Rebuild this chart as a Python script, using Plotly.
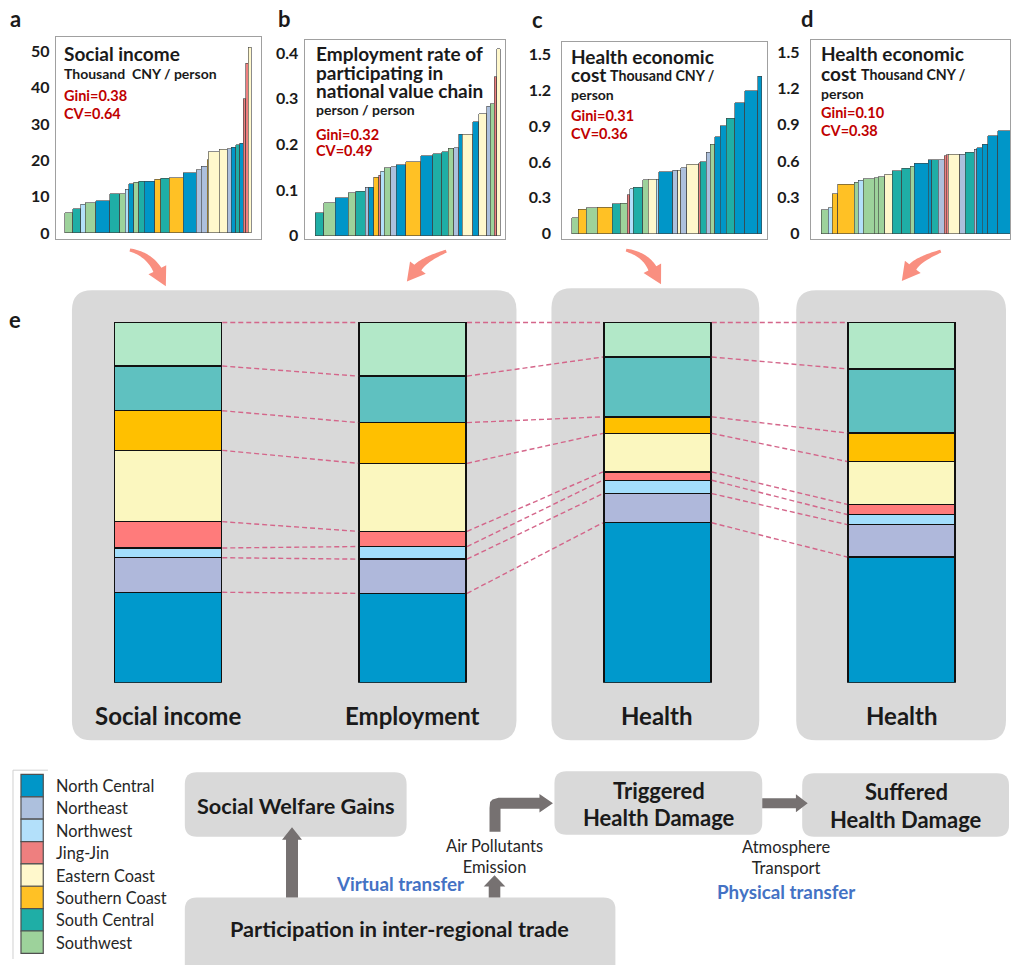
import numpy as np
import plotly.graph_objects as go

W, H = 1011, 965
FONT = "Lato"

# ---------------------------------------------------------------- data
REGIONS = ["North Central", "Northeast", "Northwest", "Jing-Jin",
           "Eastern Coast", "Southern Coast", "South Central", "Southwest"]
CODES = ["NC", "NE", "NW", "JJ", "EC", "SCo", "SC", "SW"]

# per-province bars (widths = population weight, sorted by value)
pop_a = [23, 24, 14, 32, 42, 30, 16, 11, 15, 14, 17, 32, 17, 26, 42, 40, 14, 18,
         4, 32, 24, 12, 14, 12, 10, 8, 7, 10]
income_a = [5.6, 6.6, 7.9, 8.3, 8.8, 10.8, 10.8, 12.0, 13.5, 13.9, 14.2, 14.2, 14.8,
            15.0, 15.2, 16.6, 17.4, 18.3, 20.1, 22.3, 23.0, 23.2, 23.6, 24.3, 24.7,
            36.9, 46.7, 51.1]
region_a = ["SW", "SC", "NW", "SW", "NC", "SC", "SW", "NW", "NC", "SW", "SC", "NC",
            "SCo", "SC", "SCo", "NC", "NE", "NE", "SCo", "EC", "EC", "NE", "NC", "SC",
            "NC", "JJ", "JJ", "EC"]

pop_b = [25, 34, 40, 22, 28, 12, 14, 16, 6, 10, 20, 16, 28, 46, 36, 26, 20, 16, 16,
         10, 32, 18, 24, 10, 12, 8, 10]
employ_b = [0.051, 0.072, 0.083, 0.094, 0.098, 0.106, 0.106, 0.128, 0.133, 0.141,
            0.149, 0.151, 0.156, 0.162, 0.175, 0.180, 0.184, 0.192, 0.193, 0.222,
            0.222, 0.249, 0.267, 0.283, 0.289, 0.348, 0.409]
region_b = ["SC", "SW", "NC", "SW", "SC", "NE", "NC", "SCo", "JJ", "NW", "SW", "NE",
            "NC", "SCo", "NC", "SC", "SC", "SW", "NE", "NC", "EC", "NC", "EC", "NE",
            "SW", "JJ", "EC"]

pop_c = [20, 23, 33, 46, 24, 20, 8, 10, 30, 16, 24, 8, 41, 15, 10, 18, 36, 4, 18,
         12, 14, 16, 18, 26, 30, 38, 12]
health_c = [0.133, 0.203, 0.217, 0.219, 0.250, 0.256, 0.325, 0.375, 0.389, 0.450,
            0.456, 0.456, 0.517, 0.531, 0.531, 0.550, 0.583, 0.592, 0.603, 0.681,
            0.747, 0.811, 0.903, 0.967, 1.097, 1.197, 1.319]
region_c = ["SW", "SCo", "SW", "SCo", "SC", "SW", "JJ", "NW", "SC", "SW", "EC", "NW",
            "NC", "NE", "EC", "NE", "EC", "JJ", "SC", "NE", "SW", "NC", "NC", "SC",
            "NC", "NC", "NC"]

pop_d = [21, 12, 16, 49, 13, 14, 34, 12, 19, 23, 28, 26, 12, 42, 10, 20, 18, 6, 6,
         34, 16, 28, 8, 16, 16, 30, 40]
health_d = [0.197, 0.214, 0.329, 0.409, 0.425, 0.441, 0.452, 0.463, 0.472, 0.491,
            0.518, 0.540, 0.559, 0.581, 0.609, 0.609, 0.609, 0.644, 0.653, 0.658,
            0.658, 0.675, 0.699, 0.710, 0.738, 0.809, 0.853]
region_d = ["SW", "NW", "SCo", "SCo", "SW", "NW", "SW", "SW", "SW", "EC", "SC", "SC",
            "SW", "NC", "NC", "SC", "NE", "JJ", "JJ", "EC", "NE", "SC", "NE", "NC",
            "NC", "NC", "NC"]

# regional shares (%), order as REGIONS, bottom to top
e_labels = ["Social income", "Employment", "Health", "Health"]
share_income = [25.1, 9.6, 2.7, 7.3, 19.8, 11.0, 12.4, 12.1]
share_employ = [24.8, 9.5, 3.5, 4.2, 18.9, 11.3, 12.9, 14.9]
share_health_trig = [44.4, 8.1, 3.7, 2.3, 10.7, 4.6, 16.6, 9.6]
share_health_suff = [34.9, 9.0, 2.8, 2.8, 11.9, 7.9, 17.8, 12.9]

ticks_a = [0, 10, 20, 30, 40, 50]
ticks_b = [0, 0.1, 0.2, 0.3, 0.4]
ticks_cd = [0, 0.3, 0.6, 0.9, 1.2, 1.5]

# ---------------------------------------------------------------- styles
region_colors = {"NC": "#0096C8", "NE": "#ADC0DD", "NW": "#B3E0FA", "JJ": "#EE7F7F",
                 "EC": "#FFF8CC", "SCo": "#FFC125", "SC": "#1FAEA6", "SW": "#9DD29B"}
share_colors = {"NC": "#0099CC", "NE": "#AFB8DB", "NW": "#A3DEFC", "JJ": "#FF7B7B",
                "EC": "#FBF7BF", "SCo": "#FFC000", "SC": "#5FC1C0", "SW": "#B2E8C8"}
RED = "#C00000"
BLUE = "#4472C4"
GREY_PANEL = "#D9D9D9"
ARROW_GREY = "#767171"
SALMON = "#F98F80"
TXT = "#1A1A1A"


def px(x):
    return x / W


def py(y):
    return 1 - y / H


fig = go.Figure()
layout = dict(width=W, height=H, margin=dict(l=0, r=0, t=0, b=0),
              paper_bgcolor="white", plot_bgcolor="rgba(0,0,0,0)",
              showlegend=False, barmode="stack", font=dict(family=FONT, color=TXT))

# ---------------------------------------------------------------- panels a-d
small = [
    # idx, widths, values, regions, box(l,t,r,b), bar left px, zero px, ref px, ref val, ticks, standoff
    (1, pop_a, income_a, region_a, (56, 37, 261, 240), 65.0, 234.4, 51.7, 50, ticks_a, 2),
    (2, pop_b, employ_b, region_b, (305, 40.7, 506, 240), 315.7, 237.3, 53.3, 0.4, ticks_b, 2),
    (3, pop_c, health_c, region_c, (563, 42, 768, 240), 572.3, 235.0, 55.0, 1.5, ticks_cd, 7),
    (4, pop_d, health_d, region_d, (811.7, 40.7, 1011, 240), 822.3, 235.0, 52.7, 1.5, ticks_cd, 7),
]
UNITS_PER_PX = 3.0

for idx, wts, vals, regs, box, bar_l, zero_px, ref_px, ref_val, tks, stand in small:
    wts = np.array(wts, dtype=float)
    centers = np.cumsum(wts) - wts / 2
    sfx = "" if idx == 1 else str(idx)
    fig.add_trace(go.Bar(
        x=centers, y=vals, width=wts,
        marker=dict(color=[region_colors[r] for r in regs],
                    line=dict(color="#404040", width=0.6)),
        xaxis="x" + sfx, yaxis="y" + sfx, hoverinfo="skip"))
    l, t, r, b = box
    xr = [-(bar_l - l) * UNITS_PER_PX, (r - bar_l) * UNITS_PER_PX]
    ppu = (zero_px - ref_px) / ref_val
    yr = [-(b - zero_px) / ppu, (zero_px - t) / ppu]
    ttext = ["<b>%s</b>" % ("0" if v == 0 else ("%g" % v)) for v in tks]
    layout["xaxis" + sfx] = dict(domain=[px(l), px(r)], range=xr, anchor="y" + sfx,
                                 showgrid=False, zeroline=False, showticklabels=False,
                                 showline=True, mirror=True, linecolor="#A0A0A0",
                                 linewidth=1.2, fixedrange=True)
    layout["yaxis" + sfx] = dict(domain=[py(b), py(t)], range=yr, anchor="x" + sfx,
                                 showgrid=False, zeroline=False, tickvals=tks,
                                 ticktext=ttext, ticks="", ticklabelstandoff=stand,
                                 tickfont=dict(size=16, color=TXT, family=FONT),
                                 showline=True, mirror=True, linecolor="#A0A0A0",
                                 linewidth=1.2, fixedrange=True)

# ---------------------------------------------------------------- panel e
col_x = [168, 413, 658, 902.5]
BAR_W = 107
shares = [share_income, share_employ, share_health_trig, share_health_suff]

for j, code in enumerate(CODES):
    fig.add_trace(go.Bar(
        x=col_x, y=[s[j] for s in shares], width=BAR_W,
        marker=dict(color=share_colors[code], line=dict(color="#111111", width=1.4)),
        xaxis="x5", yaxis="y5", hoverinfo="skip", name=REGIONS[j]))

# dashed links between matching boundaries of neighbouring columns
lx, ly = [], []
for i in range(len(shares) - 1):
    c0 = np.cumsum(shares[i])
    c1 = np.cumsum(shares[i + 1])
    for k in range(len(CODES)):
        lx += [col_x[i] + BAR_W / 2 + 1, col_x[i + 1] - BAR_W / 2 - 1, None]
        ly += [c0[k], c1[k], None]
fig.add_trace(go.Scatter(x=lx, y=ly, mode="lines", xaxis="x5", yaxis="y5",
                         line=dict(color="#D4668A", width=1.4, dash="5px,3px"),
                         hoverinfo="skip"))

layout["xaxis5"] = dict(domain=[0, 1], range=[0, W], anchor="y5", visible=False,
                        fixedrange=True)
layout["yaxis5"] = dict(domain=[py(687), py(323)], range=[0, 100.4], anchor="x5",
                        visible=False, fixedrange=True)

# ---------------------------------------------------------------- shapes
shapes = []


def rrect(x0, y0, x1, y1, r, fill, layer="below", line=None):
    pts = [("M", (x0 + r, y0)), ("L", (x1 - r, y0)), ("Q", (x1, y0), (x1, y0 + r)),
           ("L", (x1, y1 - r)), ("Q", (x1, y1), (x1 - r, y1)), ("L", (x0 + r, y1)),
           ("Q", (x0, y1), (x0, y1 - r)), ("L", (x0, y0 + r)), ("Q", (x0, y0), (x0 + r, y0))]
    s = ""
    for item in pts:
        s += item[0] + " " + " ".join("%.5f,%.5f" % (px(p[0]), py(p[1])) for p in item[1:]) + " "
    s += "Z"
    shapes.append(dict(type="path", xref="paper", yref="paper", path=s, fillcolor=fill,
                       line=dict(width=0) if line is None else line, layer=layer))


def poly(points, fill, layer="above"):
    s = "M " + " L ".join("%.5f,%.5f" % (px(x), py(y)) for x, y in points) + " Z"
    shapes.append(dict(type="path", xref="paper", yref="paper", path=s, fillcolor=fill,
                       line=dict(width=0), layer=layer))


def curved_arrow(start, ctrl, end, tip, w0=3.0, w1=9.0, head_w=20.0, color=SALMON):
    S, C, E, T = map(np.array, (start, ctrl, end, tip))
    left, right = [], []
    for t in np.linspace(0, 1, 24):
        P = (1 - t) ** 2 * S + 2 * (1 - t) * t * C + t ** 2 * E
        D = 2 * (1 - t) * (C - S) + 2 * t * (E - C)
        n = np.array([-D[1], D[0]]) / np.hypot(*D)
        hw = (w0 + (w1 - w0) * t) / 2
        left.append(P + n * hw)
        right.append(P - n * hw)
    u = (T - E) / np.hypot(*(T - E))
    n = np.array([-u[1], u[0]])
    pts = left + [E + n * head_w / 2, T, E - n * head_w / 2] + right[::-1]
    poly([tuple(p) for p in pts], color)


# grey panels behind the stacked columns
rrect(72, 292, 517, 745, 20, GREY_PANEL)
rrect(552, 290, 760, 745, 20, GREY_PANEL)
rrect(797, 292, 1007, 745, 20, GREY_PANEL)

# curved arrows from the distribution plots into panel e
curved_arrow((130, 251.5), (149, 256), (157.5, 271.5), (166, 288))
curved_arrow((446.7, 252.7), (425, 261), (418.3, 269.3), (407.3, 283.3))
curved_arrow((626.7, 251.7), (645.7, 256), (653, 270), (661.7, 286))
curved_arrow((941.7, 252.7), (920, 260.7), (913.7, 268.6), (902.7, 282.7))

# flow boxes
rrect(185, 777, 407, 842, 12, GREY_PANEL)
rrect(185, 903, 616, 985, 12, GREY_PANEL)
rrect(555, 776, 763, 840, 12, GREY_PANEL)
rrect(803, 778, 1010, 842, 12, GREY_PANEL)

# block arrows of the flow chart
poly([(286.3, 903), (286.3, 845), (282.3, 845), (292.3, 832.5), (302.3, 845),
      (298.3, 845), (298.3, 903)], ARROW_GREY)
poly([(489.2, 903), (489.2, 892), (484.2, 892), (495, 880.7), (505.8, 892),
      (500.8, 892), (500.8, 903)], ARROW_GREY)
poly([(490, 837), (490, 813), (490.6, 807), (493, 804.5), (499, 802.8), (540, 802.8),
      (540, 799), (553.5, 808.3), (540, 817.6), (540, 813.8), (501, 813.8), (501, 837)],
     ARROW_GREY)
poly([(763, 803.3), (796.7, 803.3), (796.7, 799.3), (808.5, 808.3), (796.7, 817.3),
      (796.7, 813.3), (763, 813.3)], ARROW_GREY)

# legend frame and swatches
shapes.append(dict(type="line", xref="paper", yref="paper", x0=px(13), x1=px(13),
                   y0=py(775), y1=py(965), line=dict(color="#D0D0D0", width=1)))
shapes.append(dict(type="line", xref="paper", yref="paper", x0=px(13), x1=px(48),
                   y0=py(775), y1=py(775), line=dict(color="#D0D0D0", width=1)))
SW_TOP, SW_H = 779.3, 22.5
for i, code in enumerate(CODES):
    shapes.append(dict(type="rect", xref="paper", yref="paper",
                       x0=px(21), x1=px(43.3), y0=py(SW_TOP + i * SW_H + SW_H),
                       y1=py(SW_TOP + i * SW_H), fillcolor=region_colors[code],
                       line=dict(color="#505050", width=1.2)))

# ---------------------------------------------------------------- text
ann = []


def txt(x, y, text, size, color=TXT, bold=False, anchor="left"):
    ann.append(dict(x=px(x), y=py(y), xref="paper", yref="paper", showarrow=False,
                    text="<b>%s</b>" % text if bold else text, xanchor=anchor,
                    yanchor="middle", borderpad=0,
                    font=dict(size=size, color=color, family=FONT)))


for letter, x, y in [("a", 16, 19), ("b", 285, 19), ("c", 538, 20), ("d", 808, 19),
                     ("e", 15, 322)]:
    txt(x, y, letter, 22, bold=True, anchor="center")

# panel a
txt(62.7, 54, "Social income", 19, bold=True)
txt(62.7, 74, "Thousand  CNY / person", 14, bold=True)
txt(62.7, 96, "Gini=0.38", 14.5, RED, bold=True)
txt(62.7, 114, "CV=0.64", 14.5, RED, bold=True)
# panel b
txt(315, 54, "Employment rate of", 19, bold=True)
txt(315, 72.7, "participating in", 19, bold=True)
txt(315, 90.7, "national value chain", 19, bold=True)
txt(315, 110, "person / person", 14, bold=True)
txt(315, 135, "Gini=0.32", 14.5, RED, bold=True)
txt(315, 151.7, "CV=0.49", 14.5, RED, bold=True)
# panel c
txt(570.7, 56.7, "Health economic", 19, bold=True)
txt(570.7, 75, "cost", 19, bold=True)
txt(610, 76, "Thousand CNY /", 14.2, bold=True)
txt(570.7, 95, "person", 14, bold=True)
txt(570.7, 116, "Gini=0.31", 14.5, RED, bold=True)
txt(570.7, 134, "CV=0.36", 14.5, RED, bold=True)
# panel d
txt(821, 54.3, "Health economic", 19, bold=True)
txt(821, 74, "cost", 19, bold=True)
txt(860.5, 75, "Thousand CNY /", 14.2, bold=True)
txt(821, 94.3, "person", 14, bold=True)
txt(821, 113, "Gini=0.10", 14.5, RED, bold=True)
txt(821, 131, "CV=0.38", 14.5, RED, bold=True)

# panel e column labels
for x, lab in zip(col_x, e_labels):
    txt(x, 720, lab, 24, bold=True, anchor="center")

# legend labels
for i, name in enumerate(REGIONS):
    txt(55, SW_TOP + i * SW_H + SW_H / 2, name, 16.3, "#262626")

# flow chart
txt(296, 810.7, "Social Welfare Gains", 21.7, bold=True, anchor="center")
txt(400, 935, "Participation in inter-regional trade", 21.7, bold=True, anchor="center")
txt(400, 889.3, "Virtual transfer", 18.8, BLUE, bold=True, anchor="center")
txt(495, 861.4, "Air Pollutants<br>Emission", 16.5, "#262626", anchor="center")
txt(659.5, 795, "Triggered", 22, bold=True, anchor="center")
txt(659.5, 822.7, "Health Damage", 22, bold=True, anchor="center")
txt(907, 796.7, "Suffered", 22, bold=True, anchor="center")
txt(907, 824.3, "Health Damage", 22, bold=True, anchor="center")
txt(786.7, 862.8, "Atmosphere<br>Transport", 16.5, "#262626", anchor="center")
txt(786.7, 897.3, "Physical transfer", 18.8, BLUE, bold=True, anchor="center")

layout["shapes"] = shapes
layout["annotations"] = ann
fig.update_layout(**layout)
fig.write_html("out.html")
